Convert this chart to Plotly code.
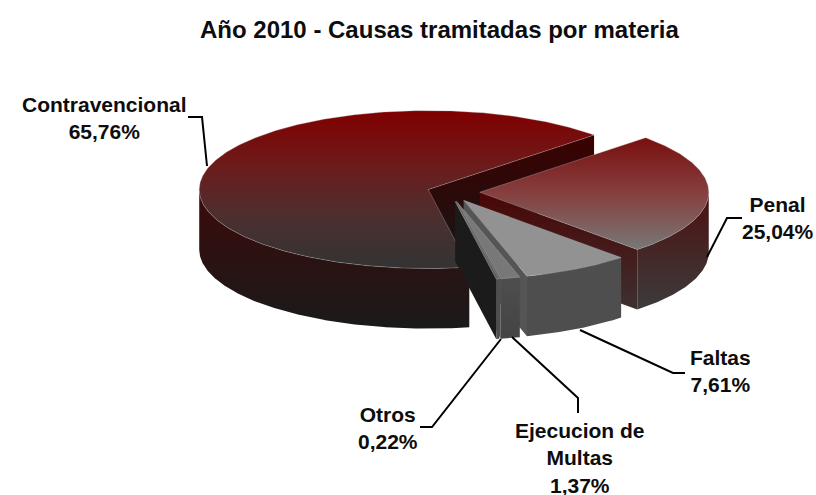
import math
import plotly.graph_objects as go

# ---- data ----
categories = ["Penal", "Faltas", "Ejecucion de<br>Multas", "Otros", "Contravencional"]
values = [25.04, 7.61, 1.37, 0.22, 65.76]
title = "Año 2010 - Causas tramitadas por materia"

# ---- projection / style constants (pixels of the 816x495 page) ----
W, H = 816, 495
CX, CY = 450, 192      # pie centre
A, B = 229, 79         # ellipse semi axes
DEPTH = 60
START = 46.4           # first slice start, degrees clockwise from top
explode = [0.13, 0.12, 0.12, 0.12, 0.10]
styles = [
    # top gradient, outer wall gradient, cut wall gradient (top to bottom)
    (["#7a0f0f", "#85403f", "#787878"], ["#4d1010", "#3c3c3c"], ["#4a0606", "#3e3030"]),
    (["#929292", "#929292"], ["#4e4e4e", "#4e4e4e"], ["#555555", "#555555"]),
    (["#787878", "#787878"], ["#4e4e4e", "#444444"], ["#505050", "#505050"]),
    (["#606060", "#606060"], ["#4e4e4e", "#4e4e4e"], ["#1b1b1b", "#1b1b1b"]),
    (["#800000", "#6e1a1a", "#4d2f2f", "#333333"], ["#3c0a0a", "#1a1a1a"], ["#3c0000", "#1a1414"]),
]
paint_order = [4, 0, 1, 2, 3]

fig = go.Figure()


def poly(xs, ys, colors, line="rgba(0,0,0,0)", lw=0):
    stops = list(reversed(colors))
    scale = [[k / (len(stops) - 1), c] for k, c in enumerate(stops)]
    fig.add_trace(go.Scatter(
        x=xs + xs[:1], y=ys + ys[:1], mode="lines", fill="toself",
        line=dict(color=line, width=lw), hoverinfo="skip", showlegend=False,
        fillgradient=dict(type="vertical", colorscale=scale),
    ))


def pt(ox, oy, t, r=1.0):
    a = math.radians(t)
    return ox + r * A * math.sin(a), oy - r * B * math.cos(a)


total = sum(values)
angle = START
spans = []
for v in values:
    spans.append((angle, angle + v / total * 360))
    angle = spans[-1][1]

for i in paint_order:
    t0, t1 = spans[i]
    mid = (t0 + t1) / 2
    ox, oy = pt(CX, CY, mid, explode[i])
    top_style, wall_style, cut_style = styles[i]
    n = max(6, int((t1 - t0) * 2))
    ts = [t0 + (t1 - t0) * k / n for k in range(n + 1)]
    rim = [pt(ox, oy, t) for t in ts]

    # the closing cut face looks at the viewer when it lies on the right half
    if (t1 % 360) < 180:
        ex, ey = pt(ox, oy, t1)
        poly([ox, ex, ex, ox], [oy, ey, ey + DEPTH, oy + DEPTH], cut_style)
    # outer wall: the part of the rim on the near side
    near = [t for t in ts if 90 <= (t % 360) <= 270]
    if len(near) > 1:
        upper = [pt(ox, oy, t) for t in near]
        xs = [p[0] for p in upper] + [p[0] for p in reversed(upper)]
        ys = [p[1] for p in upper] + [p[1] + DEPTH for p in reversed(upper)]
        poly(xs, ys, wall_style)
    # top face
    poly([ox] + [p[0] for p in rim], [oy] + [p[1] for p in rim], top_style,
         line="rgba(190,190,190,0.55)", lw=0.6)

# leader lines
leaders = [
    ([742, 727, 707], [218, 218, 257]),
    ([580, 673, 685], [330, 373, 373]),
    ([512, 578, 578], [337, 398, 413]),
    ([501, 432, 420], [339, 427, 427]),
    ([188, 202, 207], [117, 117, 166]),
]
for lx, ly in leaders:
    fig.add_trace(go.Scatter(x=lx, y=ly, mode="lines", hoverinfo="skip",
                             showlegend=False,
                             line=dict(color="black", width=2)))

FONT = "Liberation Sans, Arial, sans-serif"
label_pos = [(778, 218), (720, 371), (580, 458), (388, 428), (104, 118)]
for cat, v, (x, y) in zip(categories, values, label_pos):
    text = f"<b>{cat}<br>{v:.2f}%</b>".replace(".", ",")
    fig.add_annotation(x=x, y=y, text=text, showarrow=False, align="center",
                       xanchor="center", yanchor="middle",
                       font=dict(family=FONT, size=21, color="#0d0d0d"))
fig.add_annotation(x=440, y=29, text=f"<b>{title}</b>", showarrow=False,
                   xanchor="center", yanchor="middle",
                   font=dict(family=FONT, size=24, color="#0d0d0d"))

fig.update_layout(
    width=W, height=H,
    margin=dict(l=0, r=0, t=0, b=0),
    paper_bgcolor="white", plot_bgcolor="white",
    xaxis=dict(range=[0, W], visible=False, fixedrange=True),
    yaxis=dict(range=[H, 0], visible=False, fixedrange=True),
)
fig.write_html("out.html", config={"displayModeBar": False},
               default_width=f"{W}px", default_height=f"{H}px",
               post_script="document.body.style.margin='0';document.documentElement.style.overflow='hidden';")
